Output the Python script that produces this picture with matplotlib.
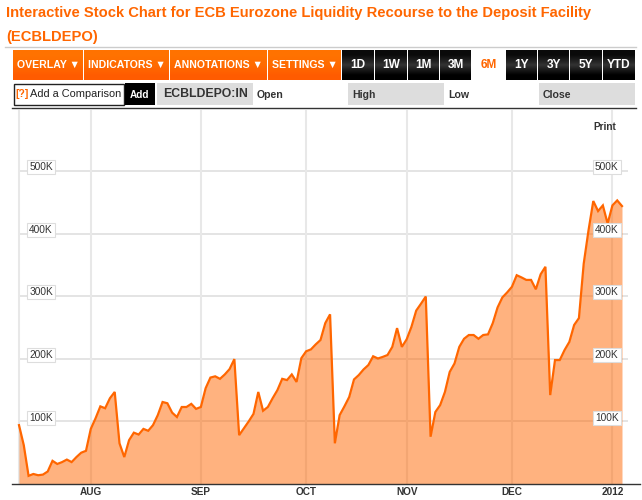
import matplotlib
matplotlib.use("Agg")
import matplotlib.pyplot as plt
import numpy as np
from matplotlib.patches import Rectangle

plt.rcParams["font.family"] = ["Liberation Sans", "DejaVu Sans"]

# values in thousands, one per trading day
values = [
    94, 62, 13, 16, 14, 15, 20, 37, 32, 35, 39, 35, 43, 50, 53, 88, 105, 124, 121, 137, 147,
    65, 43, 70, 82, 79, 88, 85, 94, 110, 131, 129, 114, 107, 123, 123, 128, 120, 123, 153,
    170, 172, 168,
    175, 183.5, 199.5, 78, 89, 100, 112, 147, 117, 123, 137, 150, 168, 166, 175, 163, 201,
    212, 215, 223, 230, 257, 271, 65, 110, 124, 139, 167, 174, 183, 190, 204, 200.5, 203,
    206, 219, 249, 219, 231, 251, 277, 288, 299.5,
    75.5, 115, 126, 147, 179, 192.5, 219, 232, 238, 238, 232, 238, 239, 257, 282, 298, 306,
    315, 333.5, 330, 326, 326, 311, 335, 347, 142, 198, 198, 214, 227, 254, 265, 352, 405,
    452, 436, 445, 416, 445, 453, 444,
]
month_labels = ["AUG", "SEP", "OCT", "NOV", "DEC", "2012"]
month_index = [15, 38, 60, 81, 103, 124]
y_ticks = [100, 200, 300, 400, 500]
y_labels = ["100K", "200K", "300K", "400K", "500K"]

menu_labels = ["OVERLAY ▼", "INDICATORS ▼", "ANNOTATIONS ▼", "SETTINGS ▼"]
range_labels = ["1D", "1W", "1M", "3M", "6M", "1Y", "3Y", "5Y", "YTD"]

ORANGE = "#ff6600"
W, H = 642, 500

fig = plt.figure(figsize=(W / 100, H / 100), dpi=100)

# chart area, pixel box 12..640 / 110..484
ax = fig.add_axes([12 / W, (H - 484) / H, 628 / W, 374 / H])
x = np.arange(len(values))
step = 603 / 126
ax.set_xlim(-7 / step, 621 / step)
ax.set_ylim(0, 374 / 0.626)

for v in y_ticks:
    ax.hlines(v, 0, 127.3, color="#dcdcdc", lw=1.1, zorder=1)
for m in [0] + month_index:
    ax.axvline(m, color="#e8e8e8", lw=1.5, zorder=1)

ax.fill_between(x, values, color=ORANGE, alpha=0.5, lw=0, zorder=2)
ax.plot(x, values, color=ORANGE, lw=1.6, zorder=3, solid_joinstyle="miter")

for v, lab in zip(y_ticks, y_labels):
    for xpos in (4.6, 122.8):
        ax.text(xpos, v + 6, lab, fontsize=7.3, color="#333333", ha="center", va="center", zorder=4,
                bbox=dict(boxstyle="square,pad=0.2", fc="white", ec="#dddddd", lw=0.8))

ax.set_xticks(month_index)
ax.set_xticklabels(month_labels, fontsize=7.2, fontweight="bold", color="#333333")
ax.tick_params(axis="x", length=0, pad=2)
ax.set_yticks([])
for side in ("top", "left", "right"):
    ax.spines[side].set_visible(False)
ax.spines["bottom"].set_color("#333333")
ax.spines["bottom"].set_linewidth(1)

# page furniture in pixel coordinates
ui = fig.add_axes([0, 0, 1, 1], zorder=5)
ui.patch.set_alpha(0)
ui.axis("off")

ui.text(6, 13.5, "Interactive Stock Chart for ECB Eurozone Liquidity Recourse to the Deposit Facility",
        fontsize=10.6, fontweight="bold", color=ORANGE, va="center")
ui.text(6, 36.5, "(ECBLDEPO)", fontsize=10.6, fontweight="bold", color=ORANGE, va="center")
ui.plot([5, 636], [47, 47], color="#cccccc", lw=1)


def gradient(x0, x1, y0, y1, c_top, c_mid, c_bottom):
    g = np.array([c_top, c_mid, c_bottom])[:, None, :]
    ui.imshow(g, extent=(x0, x1, y1, y0), aspect="auto", interpolation="bilinear", zorder=1)


menu_edges = [(13, 83), (84, 169), (170, 267), (268, 341)]
for (x0, x1), lab in zip(menu_edges, menu_labels):
    gradient(x0, x1, 50, 80, (1, .45, 0), (1, .42, 0), (1, .36, 0))
    ui.text((x0 + x1) / 2, 65, lab, fontsize=7.6, fontweight="bold", color="white",
            ha="center", va="center", zorder=3)

range_edges = [(342, 374), (375, 407), (408, 439), (440, 471), (472, 505),
               (506, 537), (538, 569), (570, 602), (603, 635)]
for (x0, x1), lab in zip(range_edges, range_labels):
    if lab == "6M":
        ui.text((x0 + x1) / 2, 65, lab, fontsize=8.6, fontweight="bold", color=ORANGE,
                ha="center", va="center", zorder=3)
        continue
    gradient(x0, x1, 50, 80, (.04, .04, .04), (.2, .2, .2), (0, 0, 0))
    ui.text((x0 + x1) / 2, 65, lab, fontsize=8.6, fontweight="bold", color="white",
            ha="center", va="center", zorder=3)

ui.add_patch(Rectangle((13.5, 83.5), 110, 21, fc="white", ec="#222222", lw=1, zorder=1))
ui.text(15.5, 94, "[?]", fontsize=7.4, fontweight="bold", color=ORANGE, va="center", zorder=3)
ui.text(30.5, 94, "Add a Comparison", fontsize=7.9, color="#222222", va="center", zorder=3)
ui.add_patch(Rectangle((125, 83), 30, 22, fc="black", ec="none", zorder=1))
ui.text(140, 94.5, "Add", fontsize=7.2, fontweight="bold", color="white", ha="center", va="center", zorder=3)
ui.add_patch(Rectangle((157, 83), 96, 22, fc="#dddddd", ec="none", zorder=1))
ui.text(163, 94, "ECBLDEPO:IN", fontsize=8.8, fontweight="bold", color="#333333", va="center", zorder=3)
ui.text(257, 94.5, "Open", fontsize=7.6, fontweight="bold", color="#333333", va="center", zorder=3)
ui.add_patch(Rectangle((348, 83), 96, 22, fc="#dddddd", ec="none", zorder=1))
ui.text(352, 94.5, "High", fontsize=7.6, fontweight="bold", color="#333333", va="center", zorder=3)
ui.text(448, 94.5, "Low", fontsize=7.6, fontweight="bold", color="#333333", va="center", zorder=3)
ui.add_patch(Rectangle((539, 83), 96, 22, fc="#dddddd", ec="none", zorder=1))
ui.text(543, 94.5, "Close", fontsize=7.6, fontweight="bold", color="#333333", va="center", zorder=3)
ui.plot([12, 636], [108, 108], color="#333333", lw=1, zorder=1)
ui.text(604.5, 127, "Print", fontsize=7.2, fontweight="bold", color="#333333", ha="center", va="center", zorder=3)

ui.set_xlim(0, W)
ui.set_ylim(H, 0)

fig.savefig("out.png", dpi=100)
